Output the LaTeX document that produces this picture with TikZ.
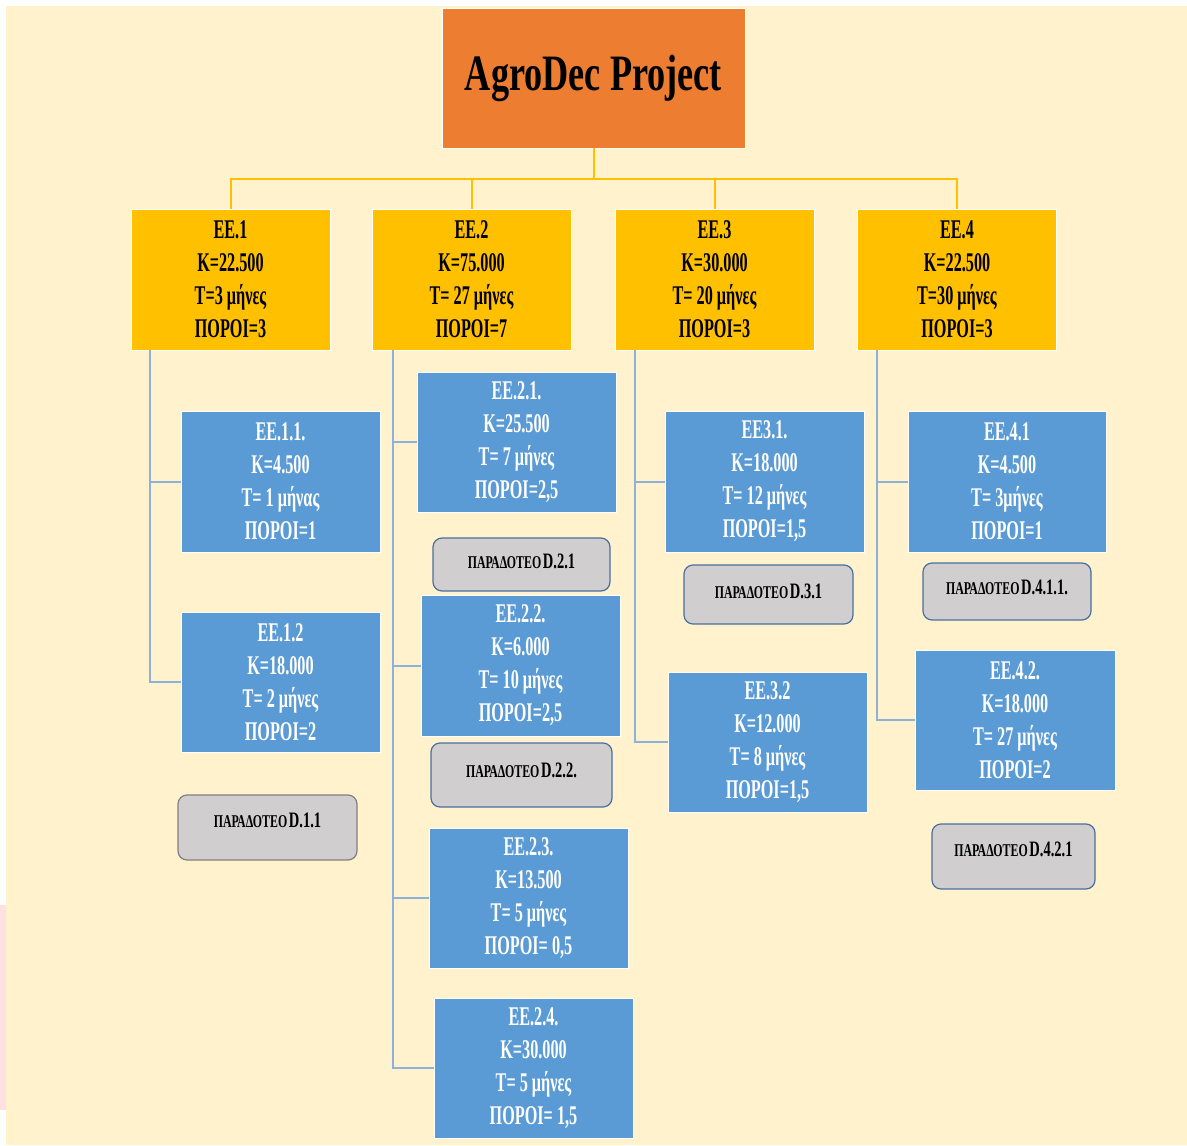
\documentclass[tikz,border=0pt]{standalone}
\usepackage{fontspec}
\setmainfont{Liberation Serif}[FakeStretch=0.6]
\newfontfamily\tfont{Liberation Serif}[FakeStretch=0.71]
\newfontfamily\dfont{Liberation Serif}[FakeStretch=0.66]
\definecolor{cream}{HTML}{FFF2CC}
\definecolor{orng}{HTML}{ED7D31}
\definecolor{ylw}{HTML}{FFC000}
\definecolor{blu}{HTML}{5B9BD5}
\definecolor{bline}{HTML}{8FB0D8}
\definecolor{gry}{HTML}{D0CECE}
\definecolor{gedge}{HTML}{4A6FA0}
\tikzset{
  rootbox/.style={fill=orng, draw=white, line width=0.8pt, minimum width=303pt, minimum height=140pt, inner sep=0pt,
    font=\tfont\bfseries\fontsize{51}{56}\selectfont, text=black},
  wpbox/.style={fill=ylw, draw=white, line width=0.8pt, minimum width=199pt, minimum height=141pt, inner sep=0pt,
    align=center, font=\bfseries\fontsize{27}{33}\selectfont, text=black},
  taskbox/.style={fill=blu, draw=white, line width=0.8pt, minimum width=199pt, minimum height=141pt, inner sep=0pt,
    align=center, font=\bfseries\fontsize{27}{33}\selectfont, text=white},
  delbox/.style={fill=gry, draw=gedge, line width=1.2pt, rounded corners=9pt, inner sep=0pt},
  deltext/.style={font=\dfont\bfseries, text=black, inner sep=0pt},
  ycon/.style={draw=ylw, line width=2pt},
  bcon/.style={draw=bline, line width=2pt},
}
\newcommand\dlab[1]{{\fontsize{18}{20}\selectfont ΠΑΡΑΔΟΤΕΟ}\,{\fontsize{22}{24}\selectfont #1}}
\begin{document}
\begin{tikzpicture}[x=1pt,y=-1pt]
\useasboundingbox (0,0) rectangle (1187,1146);
\fill[white] (0,0) rectangle (1187,1146);
\fill[cream] (6,6) rectangle (1187,1145);
\fill[red!12] (0,905) rectangle (6,1110);

% root
\node[rootbox] (root) at (593.5,78) {AgroDec Project};

% work packages
\node[wpbox] (ee1) at (230.5,279.5) {ΕΕ.1\\Κ=22.500\\Τ=3 μήνες\\ΠΟΡΟΙ=3};
\node[wpbox] (ee2) at (471.5,279.5) {ΕΕ.2\\Κ=75.000\\Τ= 27 μήνες\\ΠΟΡΟΙ=7};
\node[wpbox] (ee3) at (714.5,279.5) {ΕΕ.3\\Κ=30.000\\Τ= 20 μήνες\\ΠΟΡΟΙ=3};
\node[wpbox] (ee4) at (957,279.5) {ΕΕ.4\\Κ=22.500\\Τ=30 μήνες\\ΠΟΡΟΙ=3};

% yellow connectors
\coordinate (bus) at (593.5,179);
\draw[ycon] (root.south) -- (bus);
\draw[ycon] (ee1.north) -- (ee1.north |- bus) -- (ee4.north |- bus) -- (ee4.north);
\draw[ycon] (ee2.north) -- (ee2.north |- bus);
\draw[ycon] (ee3.north) -- (ee3.north |- bus);

% tasks
\node[taskbox] (ee11) at (280.5,481.5) {ΕΕ.1.1.\\Κ=4.500\\Τ= 1 μήνας\\ΠΟΡΟΙ=1};
\node[taskbox, minimum height=140pt] (ee12) at (280.5,682) {ΕΕ.1.2\\Κ=18.000\\Τ= 2 μήνες\\ΠΟΡΟΙ=2};
\node[taskbox, minimum height=140pt] (ee21) at (516.5,442) {ΕΕ.2.1.\\Κ=25.500\\Τ= 7 μήνες\\ΠΟΡΟΙ=2,5};
\node[taskbox] (ee22) at (520.5,665.5) {ΕΕ.2.2.\\Κ=6.000\\Τ= 10 μήνες\\ΠΟΡΟΙ=2,5};
\node[taskbox, minimum height=140pt] (ee23) at (528.5,898) {ΕΕ.2.3.\\Κ=13.500\\Τ= 5 μήνες\\ΠΟΡΟΙ= 0,5};
\node[taskbox, minimum height=140pt] (ee24) at (533.5,1068) {ΕΕ.2.4.\\Κ=30.000\\Τ= 5 μήνες\\ΠΟΡΟΙ= 1,5};
\node[taskbox] (ee31) at (764.5,481.5) {ΕΕ3.1.\\Κ=18.000\\Τ= 12 μήνες\\ΠΟΡΟΙ=1,5};
\node[taskbox, minimum height=140pt] (ee32) at (767.5,742) {ΕΕ.3.2\\Κ=12.000\\Τ= 8 μήνες\\ΠΟΡΟΙ=1,5};
\node[taskbox, minimum width=198pt] (ee41) at (1007,481.5) {ΕΕ.4.1\\Κ=4.500\\Τ= 3μήνες\\ΠΟΡΟΙ=1};
\node[taskbox, minimum width=200pt, minimum height=140pt] (ee42) at (1015,720) {ΕΕ.4.2.\\Κ=18.000\\Τ= 27 μήνες\\ΠΟΡΟΙ=2};

% blue connectors
\coordinate (t1) at (150,350);
\coordinate (t2) at (393,350);
\coordinate (t3) at (635,350);
\coordinate (t4) at (877,350);
\draw[bcon] (t1) |- (ee12.west);
\draw[bcon] (t1 |- ee11.west) -- (ee11.west);
\draw[bcon] (t2) |- (ee24.west);
\draw[bcon] (t2 |- ee21.west) -- (ee21.west);
\draw[bcon] (t2 |- ee22.west) -- (ee22.west);
\draw[bcon] (t2 |- ee23.west) -- (ee23.west);
\draw[bcon] (t3) |- (ee32.west);
\draw[bcon] (t3 |- ee31.west) -- (ee31.west);
\draw[bcon] (t4) |- (ee42.west);
\draw[bcon] (t4 |- ee41.west) -- (ee41.west);

% deliverables
\node[delbox, draw=gray, minimum width=179pt, minimum height=65pt] (d11) at (267.5,827.5) {};
\node[deltext] (d11t) at (267.5,820) {\dlab{D.1.1}};
\node[delbox, minimum width=177pt, minimum height=53pt] (d21) at (521.5,564.5) {};
\node[deltext] (d21t) at (521.5,561) {\dlab{D.2.1}};
\node[delbox, minimum width=181pt, minimum height=64pt] (d22) at (521.5,775) {};
\node[deltext] (d22t) at (521.5,770) {\dlab{D.2.2.}};
\node[delbox, minimum width=169pt, minimum height=59pt] (d31) at (768.5,594.5) {};
\node[deltext] (d31t) at (768.5,591) {\dlab{D.3.1}};
\node[delbox, minimum width=168pt, minimum height=57pt] (d411) at (1007,591.5) {};
\node[deltext] (d411t) at (1007,587) {\dlab{D.4.1.1.}};
\node[delbox, minimum width=163pt, minimum height=65pt] (d421) at (1013.5,856.5) {};
\node[deltext] (d421t) at (1013.5,849) {\dlab{D.4.2.1}};
\end{tikzpicture}
\end{document}
